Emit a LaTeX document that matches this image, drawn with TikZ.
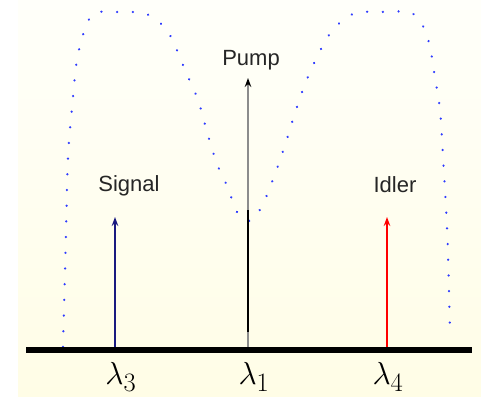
\documentclass[tikz,border=0pt]{standalone}
\usepackage{graphicx}
\usepackage{fontspec}
\newfontfamily\labelfont{Liberation Sans}
\usetikzlibrary{arrows.meta}
\definecolor{bgtop}{HTML}{FFFFFA}
\definecolor{bgbot}{HTML}{FFFDE6}
\definecolor{dotblue}{HTML}{2E3BFF}
\definecolor{signalblue}{HTML}{1A1A80}
\newcommand{\biglam}[1]{\scalebox{1.28}{$\lambda_{#1}$}}
\tikzset{
  wave/.style={line width=1.4pt, -{Stealth[length=9pt,width=6.5pt]}},
  lbl/.style={font=\labelfont\fontsize{22}{22}\selectfont, text=black!85},
  lam/.style={font=\fontsize{24.88}{25}\selectfont, inner sep=0pt},
  spectrum/.style={draw=dotblue, line width=2.4pt, dash pattern=on 0.1pt off 15.6pt, line cap=round},
}
\begin{document}
\begin{tikzpicture}[x=1pt,y=-1pt]
\useasboundingbox (0,0) rectangle (481,396);
\shade[top color=bgtop, bottom color=bgbot] (18,0) rectangle (481,396);
% dotted spectrum
\draw[spectrum] plot[smooth, tension=0.55] coordinates {
  (63,347) (66,233) (68,157) (72,108) (77,60) (85,29) (95,13) (120,12) (143,13)
  (158,21) (171,37) (185,70) (198,100) (207,132) (217,164) (228,188) (237,212) (250,221)
  (262,206) (275,174) (286,142) (296,110) (307,79) (322,47) (332,31) (347,17) (362,12)
  (390,12) (410,12) (423,26) (430,47) (435,78) (440,110) (443,157) (446,207) (448,253) (450,333)};
% arrows
\coordinate (l3) at (115,350);
\coordinate (l1) at (248,350);
\coordinate (l4) at (387,350);
\coordinate (t3) at (115,217);
\coordinate (t1) at (248,78);
\coordinate (m1) at (248,210);
\coordinate (b1) at (248,332);
\coordinate (t4) at (387,217);
\draw[wave, draw=signalblue, fill=signalblue] (l3) -- (t3);
\draw[wave, draw=black!45, -{Stealth[length=9pt,width=6.5pt,color=black]}] (l1) -- (t1);
\draw[line width=1.1pt, draw=black] (b1) -- (m1);
\draw[wave, draw=red, fill=red] (l4) -- (t4);
% axis
\coordinate (a0) at (26,350);
\coordinate (a1) at (472,350);
\draw[line width=6pt] (a0) -- (a1);
\node[lbl] (sig) at (129,186) {Signal};
\node[lbl] (pump) at (251,60) {Pump};
\node[lbl] (idl) at (395,185) {Idler};
\node[lam] (n3) at (121,377) {\biglam{3}};
\node[lam] (n1) at (254,377) {\biglam{1}};
\node[lam] (n4) at (388,377) {\biglam{4}};
\end{tikzpicture}
\end{document}
